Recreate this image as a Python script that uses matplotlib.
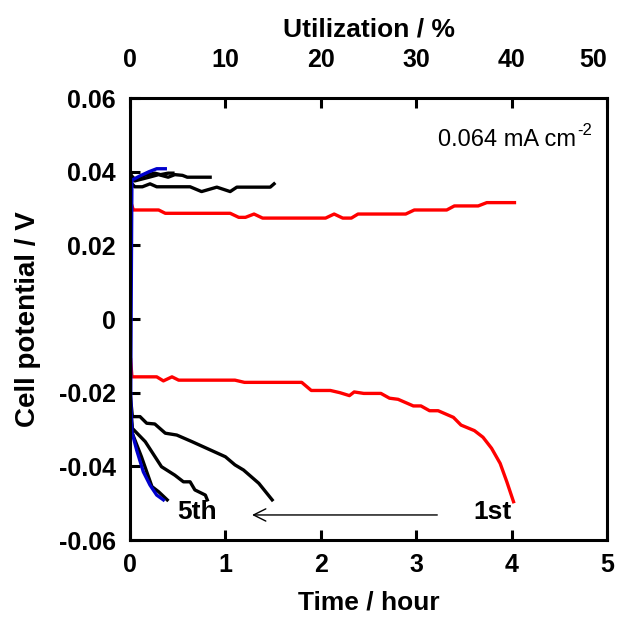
import numpy as np
import matplotlib
matplotlib.use("Agg")
import matplotlib.pyplot as plt

plt.rcParams['font.family'] = ['Liberation Sans', 'DejaVu Sans']
plt.rcParams['axes.unicode_minus'] = False

# charge curves (time / hour, cell potential / V)
red_chg_t = [0.0, 0.01, 0.035, 0.30, 0.37, 1.05, 1.14, 1.21, 1.30, 1.39, 2.05, 2.14, 2.23,
             2.32, 2.39, 2.89, 2.98, 3.32, 3.40, 3.65, 3.74, 4.03]
red_chg_v = [0.0316, 0.0316, 0.0296, 0.0296, 0.0287, 0.0287, 0.0276, 0.0276, 0.0285, 0.0274,
             0.0274, 0.0285, 0.0274, 0.0274, 0.0285, 0.0285, 0.0296, 0.0296, 0.0307, 0.0307,
             0.0316, 0.0316]

blk2_chg_t = [0.0, 0.01, 0.05, 0.13, 0.21, 0.28, 0.63, 0.75, 0.91, 1.05, 1.12, 1.47, 1.51]
blk2_chg_v = [0.039, 0.037, 0.0359, 0.0359, 0.0367, 0.0359, 0.0359, 0.0346, 0.0358, 0.0346,
              0.0358, 0.0358, 0.0367]

blk3_chg_t = [0.0, 0.01, 0.05, 0.20, 0.30, 0.40, 0.47, 0.55, 0.60, 0.84]
blk3_chg_v = [0.041, 0.039, 0.0375, 0.0385, 0.0392, 0.0385, 0.0392, 0.0390, 0.0385, 0.0385]

blk4_chg_t = [0.0, 0.01, 0.05, 0.15, 0.26, 0.32, 0.40, 0.45]
blk4_chg_v = [0.041, 0.039, 0.0380, 0.0390, 0.0396, 0.0392, 0.0396, 0.0396]

blu_chg_t = [0.0, 0.02, 0.10, 0.20, 0.28, 0.37]
blu_chg_v = [-0.050, 0.0377, 0.0388, 0.0400, 0.0408, 0.0408]

# discharge curves
red_dis_t = [0.0, 0.005, 0.02, 0.28, 0.35, 0.44, 0.51, 1.10, 1.20, 1.80, 1.90, 2.10, 2.20,
             2.30, 2.35, 2.45, 2.63, 2.72, 2.81, 2.97, 3.05, 3.14, 3.23, 3.39, 3.47, 3.61,
             3.70, 3.79, 3.88, 3.95, 4.02]
red_dis_v = [-0.0106, -0.0106, -0.0157, -0.0157, -0.0168, -0.0157, -0.0166, -0.0166, -0.0172,
             -0.0172, -0.0194, -0.0194, -0.0200, -0.0208, -0.0198, -0.0202, -0.0202, -0.0215,
             -0.0218, -0.0236, -0.0236, -0.0249, -0.0249, -0.0267, -0.0288, -0.0303, -0.0321,
             -0.0351, -0.0392, -0.0442, -0.0496]

blk2_dis_t = [0.0, 0.025, 0.105, 0.175, 0.26, 0.37, 0.49, 0.65, 1.00, 1.10, 1.19, 1.35, 1.49]
blk2_dis_v = [-0.020, -0.0265, -0.0265, -0.0283, -0.0285, -0.0310, -0.0315, -0.0333, -0.0374,
              -0.0396, -0.0410, -0.0446, -0.0491]

blk3_dis_t = [0.0, 0.025, 0.16, 0.33, 0.47, 0.56, 0.63, 0.68, 0.79, 0.81]
blk3_dis_v = [-0.022, -0.0297, -0.0333, -0.0401, -0.0424, -0.0442, -0.0442, -0.0464, -0.0478,
              -0.0491]

blk4_dis_t = [0.0, 0.025, 0.12, 0.23, 0.30, 0.39]
blk4_dis_v = [-0.024, -0.0311, -0.0374, -0.0455, -0.0469, -0.0491]

blu_dis_t = [0.0, 0.005, 0.02, 0.07, 0.14, 0.21, 0.28, 0.35]
blu_dis_v = [0.036, -0.020, -0.0306, -0.0356, -0.0415, -0.0451, -0.0478, -0.0491]

yticks = [0.06, 0.04, 0.02, 0, -0.02, -0.04, -0.06]
ytick_labels = ["0.06", "0.04", "0.02", "0", "-0.02", "-0.04", "-0.06"]
util_ticks = [0, 10, 20, 30, 40, 50]

fs = 18

fig = plt.figure(figsize=(6.17, 6.18), dpi=100)
ax = fig.add_axes([0.2107, 0.1262, 0.7731, 0.7152])

lw = 2.4
ax.plot(red_chg_t, red_chg_v, color="red", lw=lw)
ax.plot(red_dis_t, red_dis_v, color="red", lw=lw)
for t, v in [(blk2_chg_t, blk2_chg_v), (blk3_chg_t, blk3_chg_v), (blk4_chg_t, blk4_chg_v),
             (blk2_dis_t, blk2_dis_v), (blk3_dis_t, blk3_dis_v), (blk4_dis_t, blk4_dis_v)]:
    ax.plot(t, v, color="black", lw=lw)
ax.plot(blu_chg_t, blu_chg_v, color="#0000cc", lw=lw)
ax.plot(blu_dis_t, blu_dis_v, color="#0000cc", lw=lw)

ax.set_xlim(0, 5)
ax.set_ylim(-0.06, 0.06)
ax.set_yticks(yticks)
ax.set_yticklabels(ytick_labels)
ax.set_xticks([0, 1, 2, 3, 4, 5])

for s in ax.spines.values():
    s.set_linewidth(2.2)
ax.tick_params(direction="in", length=7, width=2.2, labelsize=fs)
ax.tick_params(axis="x", pad=9)
ax.tick_params(axis="y", pad=10)
for lab in ax.get_xticklabels() + ax.get_yticklabels():
    lab.set_fontweight("bold")

ax.set_xlabel("Time / hour", fontsize=fs + 1, fontweight="bold", labelpad=10)
ax.set_ylabel("Cell potential / V", fontsize=fs + 2, fontweight="bold", labelpad=13)

top = ax.secondary_xaxis("top", functions=(lambda x: x * 10, lambda u: u / 10))
top.set_xticks(util_ticks)
top.tick_params(direction="in", length=7, width=2.2, labelsize=fs, pad=19)
top_labels = top.get_xticklabels()
for lab in top_labels:
    lab.set_fontweight("bold")
top_labels[-1].set_horizontalalignment("right")
top.set_xlabel("Utilization / %", fontsize=fs + 1, fontweight="bold", labelpad=8)

cd = ax.text(0.935, 0.905, "0.064 mA cm", transform=ax.transAxes, ha="right", va="center",
             fontsize=17)
ax.annotate("-2", xy=(1.0, 0.6), xycoords=cd, xytext=(1, 0), textcoords="offset points",
            fontsize=12, va="bottom", ha="left")
ax.text(3.8, -0.0525, "1st", fontsize=fs + 1, fontweight="bold", ha="center", va="center")
ax.text(0.7, -0.0525, "5th", fontsize=fs + 1, fontweight="bold", ha="center", va="center")
ax.annotate("", xy=(1.25, -0.0532), xytext=(3.25, -0.0532),
            arrowprops=dict(arrowstyle="->", lw=1.0, color="black", mutation_scale=22))

fig.savefig("out.png", dpi=100)
